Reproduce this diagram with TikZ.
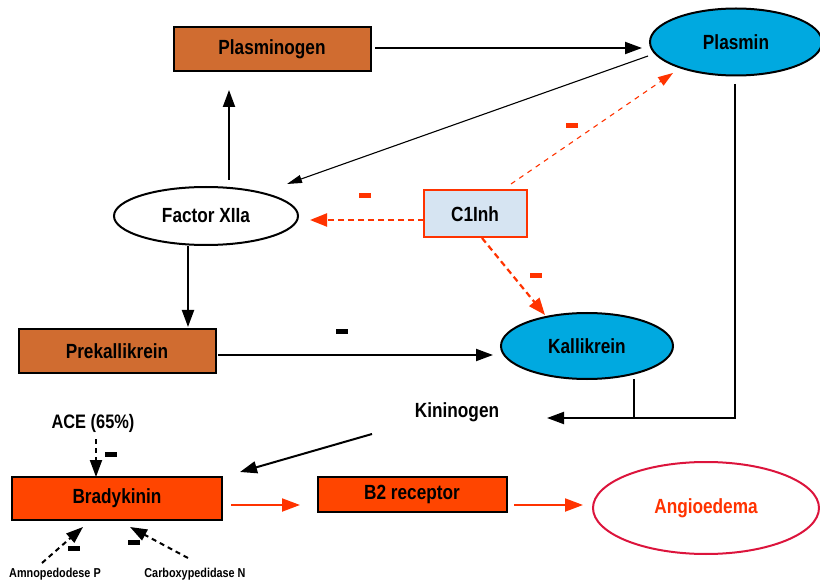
\documentclass[tikz,border=0pt]{standalone}
\usepackage{fontspec}
\newfontfamily\lab{Liberation Sans}[FakeStretch=0.84]
\usetikzlibrary{shapes.geometric,arrows.meta}
\definecolor{brownbox}{HTML}{D06C30}
\definecolor{bluell}{HTML}{00A9E0}
\definecolor{bkred}{HTML}{FF4500}
\definecolor{inhred}{HTML}{FF3300}
\definecolor{c1fill}{HTML}{D6E4F2}
\definecolor{angred}{HTML}{DC143C}
\tikzset{
  base/.style={font=\lab\bfseries\fontsize{20.5}{24}\selectfont, inner sep=0pt, line width=2pt},
  boxbrown/.style={base, rectangle, draw=black, fill=brownbox, minimum width=197pt, minimum height=44pt},
  ellblue/.style={base, ellipse, draw=black, fill=bluell, minimum width=172pt, minimum height=67pt},
  ellwhite/.style={base, ellipse, draw=black, fill=white, minimum width=184pt, minimum height=58pt},
  inhbox/.style={base, rectangle, draw=inhred, fill=c1fill, minimum width=103pt, minimum height=47pt},
  redbox/.style={base, rectangle, draw=black, fill=bkred},
  plain/.style={base},
  small/.style={font=\lab\bfseries\fontsize{12.9}{15}\selectfont, inner sep=0pt},
  thk/.style={line width=2pt, -{Triangle[length=17pt,width=12pt]}},
  thn/.style={line width=1.1pt, -{Triangle[length=15pt,width=8pt]}},
  rdash/.style={line width=2.2pt, draw=inhred, dash pattern=on 6pt off 4pt, -{Triangle[length=17pt,width=13pt,fill=inhred]}},
  rdashthin/.style={line width=1.1pt, draw=inhred, dash pattern=on 5pt off 5pt, -{Triangle[length=15pt,width=10pt,fill=inhred]}},
  rarrow/.style={line width=2pt, draw=inhred, -{Triangle[length=18pt,width=13pt,fill=inhred]}},
  bdash/.style={line width=2pt, dash pattern=on 5pt off 4pt, -{Triangle[length=17pt,width=12pt]}},
  minusb/.style={rectangle, fill=black, inner sep=0pt, minimum width=12pt, minimum height=5pt},
  minusr/.style={rectangle, fill=inhred, inner sep=0pt, minimum width=12pt, minimum height=5pt},
}
\begin{document}
\begin{tikzpicture}[x=1pt,y=-1pt]
\useasboundingbox (0,0) rectangle (820,580);
% nodes
\node[boxbrown] (pgn) at (272,49) {Plasminogen};
\node[ellblue] (pls) at (736,42) {Plasmin};
\node[ellwhite] (fxa) at (206,216) {Factor XIIa};
\node[inhbox] (c1) at (475,214) {C1Inh};
\node[boxbrown] (pkl) at (117,351) {Prekallikrein};
\node[ellblue, minimum height=66pt] (kal) at (587,346) {Kallikrein};
\node[plain] (kng) at (457,412) {Kininogen};
\node[redbox, minimum width=210pt, minimum height=43pt] (bk) at (117,498) {Bradykinin};
\node[redbox, minimum width=189pt, minimum height=35pt] (b2) at (412,494) {B2 receptor};
\node[base, ellipse, draw=angred, fill=white, text=inhred, minimum width=226pt, minimum height=92pt] (ang) at (706,508) {Angioedema};
\node[plain, font=\lab\bfseries\fontsize{19.5}{23}\selectfont] (ace) at (93,423) {ACE (65\%)};
\node[small] (amn) at (55,574) {Amnopedodese P};
\node[small] (carb) at (195,574) {Carboxypedidase N};
% minus marks
\node[minusb] (m1) at (342,332) {};
\node[minusr] (m2) at (365,196) {};
\node[minusr] (m3) at (572,126) {};
\node[minusr] (m4) at (536,276) {};
\node[minusb] (m5) at (111,454) {};
\node[minusb] (m6) at (74,548) {};
\node[minusb] (m7) at (134,542) {};
% connectors
\draw[thk] ([shift={(103,-1)}]pgn.center) -- ([shift={(-94,6)}]pls.center);
\draw[thn] ([shift={(-88,14)}]pls.center) -- ([shift={(81,-32)}]fxa.center);
\draw[thk] ([shift={(23,-36)}]fxa.center) -- ([shift={(-43,41)}]pgn.center);
\draw[thk] ([shift={(-18,30)}]fxa.center) -- ([shift={(71,-24)}]pkl.center);
\draw[thk] ([shift={(101,4)}]pkl.center) -- ([shift={(-94,9)}]kal.center);
\draw[rdash] ([shift={(-51,6)}]c1.center) -- ([shift={(104,4)}]fxa.center);
\draw[rdashthin] ([shift={(36,-30)}]c1.center) -- ([shift={(-63,31)}]pls.center);
\draw[rdash] ([shift={(7,24)}]c1.center) -- ([shift={(-42,-31)}]kal.center);
\draw[thk] ([shift={(-1,42)}]pls.center) |- ([shift={(90,6)}]kng.center);
\draw[line width=2pt] ([shift={(47,33)}]kal.center) -- ([shift={(177,6)}]kng.center);
\draw[thk] ([shift={(-85,22)}]kng.center) -- ([shift={(123,-26)}]bk.center);
\draw[rarrow] ([shift={(114,7)}]bk.center) -- ([shift={(-112,11)}]b2.center);
\draw[rarrow] ([shift={(102,11)}]b2.center) -- ([shift={(-123,-3)}]ang.center);
\draw[bdash] ([shift={(3,16)}]ace.center) -- ([shift={(-21,-21)}]bk.center);
\draw[bdash] ([shift={(-13,-11)}]amn.center) -- ([shift={(-34,29)}]bk.center);
\draw[bdash] ([shift={(-7,-16)}]carb.center) -- ([shift={(13,29)}]bk.center);
\end{tikzpicture}
\end{document}
